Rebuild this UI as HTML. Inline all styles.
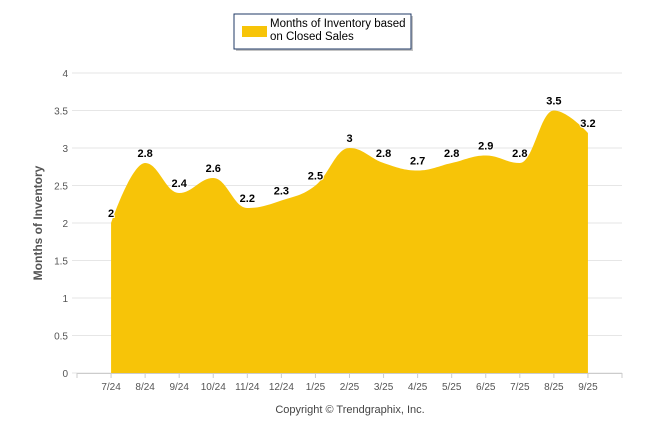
<!DOCTYPE html>
<html><head><meta charset="utf-8"><style>
body{margin:0;background:#fff;}
svg{display:block;font-family:"Liberation Sans",sans-serif;}
</style></head><body>
<svg id="c" width="646" height="434">
<g>
<rect x="236" y="16" width="177" height="35" fill="#8a8a8a" opacity="0.5"/>
<rect x="234" y="14" width="177" height="35" fill="#fff" stroke="#1f3864" stroke-width="1"/>
<rect x="242" y="26" width="25" height="11" fill="#f7c408"/>
<text x="270" y="27" font-size="11.5" fill="#000">Months of Inventory based</text>
<text x="270" y="40" font-size="11.5" fill="#000">on Closed Sales</text>
</g>
<text transform="translate(42,223) rotate(-90)" text-anchor="middle" font-size="12" font-weight="bold" fill="#555">Months of Inventory</text>
<text x="350" y="413" text-anchor="middle" font-size="11" fill="#444">Copyright © Trendgraphix, Inc.</text>
<g id="grid"></g><g id="area"></g><g id="xa"></g><g id="lbl"></g>
</svg>
<script>
const categories=["7/24","8/24","9/24","10/24","11/24","12/24","1/25","2/25","3/25","4/25","5/25","6/25","7/25","8/25","9/25"];
const values=[2,2.8,2.4,2.6,2.2,2.3,2.5,3,2.8,2.7,2.8,2.9,2.8,3.5,3.2];
const yTicks=[0,0.5,1,1.5,2,2.5,3,3.5,4];
const NS="http://www.w3.org/2000/svg";
const y0=373,y4=73,xL=77,xR=622,step=(xR-xL)/16;
const yS=v=>y0-(v/4)*(y0-y4);
const xS=i=>xL+step*(i+1);
function mk(t,a,p){const e=document.createElementNS(NS,t);for(const k in a)e.setAttribute(k,a[k]);p.appendChild(e);return e;}
const grid=document.getElementById('grid');
yTicks.forEach(v=>{
 const l=mk('line',{x1:72,x2:xR,y1:yS(v),y2:yS(v),stroke:'#e6e6e6','stroke-width':1},grid);
 
 
 const t=mk('text',{x:68,y:yS(v)+4,'text-anchor':'end','font-size':10,fill:'#555'},grid);
 t.textContent=v;
 
 
});
const pts=values.map((v,i)=>({x:xS(i),y:yS(v)}));
const sm=1.5,den=2.5;
function cont(i){
 const p=pts[i],a=pts[i-1],b=pts[i+1];
 if(!a||!b)return {lx:p.x,ly:p.y,rx:p.x,ry:p.y};
 let lx=(sm*p.x+a.x)/den,ly=(sm*p.y+a.y)/den,rx=(sm*p.x+b.x)/den,ry=(sm*p.y+b.y)/den;
 const c=((ry-ly)*(rx-p.x))/(rx-lx)+p.y-ry;ly+=c;ry+=c;
 if(ly>a.y&&ly>p.y){ly=Math.max(a.y,p.y);ry=2*p.y-ly;}else if(ly<a.y&&ly<p.y){ly=Math.min(a.y,p.y);ry=2*p.y-ly;}
 if(ry>b.y&&ry>p.y){ry=Math.max(b.y,p.y);ly=2*p.y-ry;}else if(ry<b.y&&ry<p.y){ry=Math.min(b.y,p.y);ly=2*p.y-ry;}
 return {lx,ly,rx,ry};
}
const cs=pts.map((p,i)=>cont(i));
let d=`M${pts[0].x},${y0}L${pts[0].x},${pts[0].y}`;
for(let i=1;i<pts.length;i++)d+=`C${cs[i-1].rx},${cs[i-1].ry},${cs[i].lx},${cs[i].ly},${pts[i].x},${pts[i].y}`;
d+=`L${pts[pts.length-1].x},${y0}Z`;
const ar=mk('path',{d,fill:'#f7c408'},document.getElementById('area'));


const xa=document.getElementById('xa');
const ax=mk('line',{x1:xL,x2:xR,y1:y0+0.5,y2:y0+0.5,stroke:'#ccc'},xa);


for(let k=0;k<=16;k++){const t=mk('line',{x1:xL+step*k,x2:xL+step*k,y1:y0,y2:y0+5,stroke:'#ccc'},xa);
 
 }
const lbl=document.getElementById('lbl');
categories.forEach((c,i)=>{
 const t=mk('text',{x:xS(i),y:390,'text-anchor':'middle','font-size':10,fill:'#555'},xa);
 t.textContent=c;
 
 
 const v=mk('text',{x:xS(i),y:yS(values[i])-6,'text-anchor':'middle','font-size':11,'font-weight':'bold',fill:'#000',stroke:'#fff','stroke-width':2,'paint-order':'stroke'},lbl);
 v.textContent=values[i];
 
 
});
</script>
</body></html>
